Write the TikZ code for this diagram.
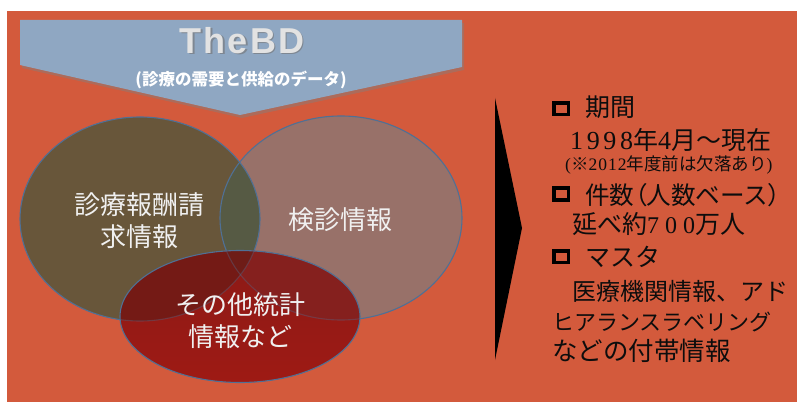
\documentclass[tikz,border=0pt]{standalone}
\usepackage{fontspec}
\setmainfont{Liberation Sans}
\newfontfamily\jp{Noto Sans CJK JP}
\newfontfamily\jpp[RawFeature=+palt]{Noto Sans CJK JP}
\newfontfamily\serA[LetterSpace=14]{Liberation Serif}
\newfontfamily\serB[LetterSpace=25]{Liberation Serif}
\newfontfamily\serC[LetterSpace=6]{Liberation Serif}
\newfontfamily\hdr[LetterSpace=6]{Liberation Sans}
\usetikzlibrary{shadows}
\definecolor{bg}{HTML}{D35A3C}
\definecolor{banner}{HTML}{8FA7C2}
\definecolor{lcol}{HTML}{68563A}
\definecolor{rcol}{HTML}{987169}
\definecolor{lrcol}{HTML}{565A44}
\definecolor{btop}{HTML}{8C1A17}
\definecolor{bbot}{HTML}{9E1A14}
\definecolor{blcol}{HTML}{741A15}
\definecolor{brcol}{HTML}{85201E}
\definecolor{blrcol}{HTML}{6E1C17}
\definecolor{edge}{HTML}{4F7095}
\definecolor{hdrtext}{HTML}{E2E2E2}
\tikzset{
  ellL/.style={insert path={(140,219) ellipse [x radius=120pt, y radius=102pt]}},
  ellR/.style={insert path={(341,218) ellipse [x radius=121pt, y radius=102pt]}},
  ellB/.style={insert path={(240,316.5) ellipse [x radius=120pt, y radius=66pt]}},
  venntext/.style={text=white!94!black, font=\jp\fontsize{26}{32}\selectfont, align=center, inner sep=0pt},
  rtext/.style={anchor=west, inner sep=0pt, text=black!95, font=\jp\fontsize{25}{28}\selectfont},
  sqbox/.style={draw=black, line width=3.6pt, minimum width=14.6pt, minimum height=11.6pt, inner sep=0pt},
}
\begin{document}
\begin{tikzpicture}[x=1pt,y=-1pt]
\useasboundingbox (0,0) rectangle (797,403);
\fill[bg] (7,11) rectangle (797,401.5);
% Venn: left and right
\fill[lcol, ellL];
\fill[rcol, ellR];
\begin{scope}
  \clip[ellL];
  \fill[lrcol, ellR];
\end{scope}
\draw[edge, line width=1.1pt, ellL];
\draw[edge, line width=1.1pt, ellR];
% bottom ellipse
\shade[top color=btop, bottom color=bbot, ellB];
\begin{scope}
  \clip[ellB];
  \fill[blcol, ellL];
  \fill[brcol, ellR];
  \clip[ellL];
  \fill[blrcol, ellR];
\end{scope}
\begin{scope}
  \clip[ellB];
  \draw[edge, opacity=0.35, line width=1.1pt, ellL];
  \draw[edge, opacity=0.35, line width=1.1pt, ellR];
\end{scope}
\draw[edge, line width=1.1pt, ellB];
% banner
\fill[banner, drop shadow={opacity=0.45, shadow xshift=2pt, shadow yshift=-3pt}]
  (20,20) -- (462,20) -- (462,67) -- (240,115) -- (20,65) -- cycle;
\node[text=black!55, opacity=0.6, font=\hdr\bfseries\fontsize{36}{40}\selectfont, inner sep=0pt] (thebdsh) at (243.5,42) {TheBD};
\node[text=hdrtext, font=\hdr\bfseries\fontsize{36}{40}\selectfont, inner sep=0pt] (thebd) at (242,40.5) {TheBD};
\node[text=white, font=\jp\bfseries\fontsize{16.5}{18}\selectfont, inner sep=0pt] (sub) at (241,80) {(診療の需要と供給のデータ)};
% Venn labels
\node[venntext] (claims) at (139,221) {診療報酬請\\求情報};
\node[venntext] (checkup) at (340,220) {検診情報};
\node[venntext] (other) at (240,321) {その他統計\\情報など};
% chevron
\fill[black] (495,98) -- (522,228) -- (495,360) -- cycle;
% right panel
\node[sqbox] (sq1) at (561,108.7) {};
\node[rtext] (h1) at (585,107) {期間};
\node[rtext] (l1) at (570,140) {{\serA\fontsize{26}{28}\selectfont 1998}年{\serA\fontsize{26}{28}\selectfont 4}月～現在};
\node[rtext, font=\jp\fontsize{17.5}{20}\selectfont] (l2) at (565,165) {{\serC(}※{\serC 2012}年度前は欠落あり{\serC)}};
\node[sqbox] (sq2) at (561,194) {};
\node[rtext, font=\jp\fontsize{24.6}{28}\selectfont] (h2) at (585,195) {件数{\jpp （}人数ベース{\jpp ）}};
\node[rtext] (l3) at (572,224) {延べ約{\serB\fontsize{24}{28}\selectfont 700}万人};
\node[sqbox] (sq3) at (561,256.5) {};
\node[rtext] (h3) at (585,256.5) {マスタ};
\node[rtext, font=\jp\fontsize{24}{28}\selectfont] (l4) at (572,291) {医療機関情報、アド};
\node[rtext, font=\jp\fontsize{22}{28}\selectfont] (l5) at (552,322) {ヒアランスラベリング};
\node[rtext, font=\jp\fontsize{25.5}{28}\selectfont] (l6) at (552,351) {などの付帯情報};
\end{tikzpicture}
\end{document}
